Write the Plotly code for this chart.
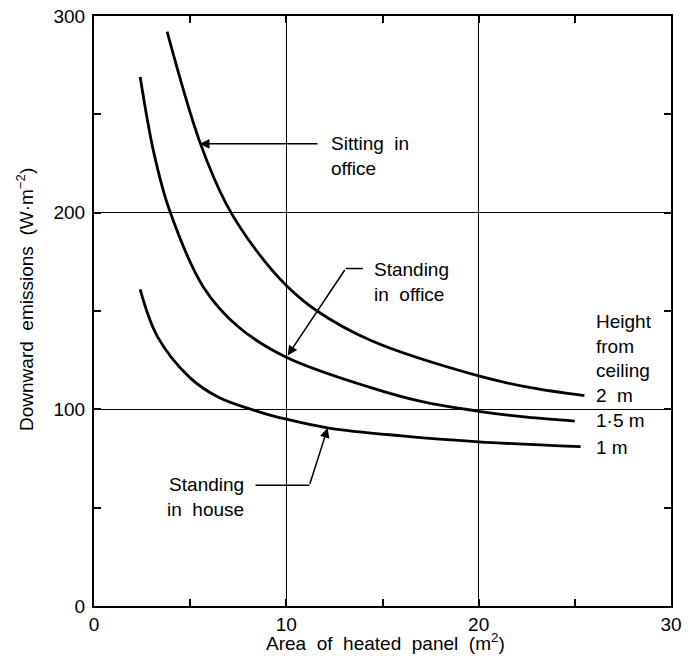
import plotly.graph_objects as go

# ---- data ----
sit_x = [3.8, 5.5, 6.9, 8.5, 10.0, 11.6, 14.4, 20.0, 22.7, 25.5]
sit_y = [292, 236, 204, 180, 163, 150, 135, 117, 111, 107]

off_x = [2.4, 3.1, 3.9, 5.7, 7.5, 10.0, 14.4, 17.0, 20.0, 22.5, 25.0]
off_y = [269, 231, 202, 162, 142, 126.5, 111, 104, 99, 96, 94]

house_x = [2.4, 3.3, 5.0, 6.5, 8.5, 10.0, 12.2, 16.0, 20.0, 25.3]
house_y = [161, 137, 116, 106, 99, 95, 90.5, 86.5, 83.5, 81]

x_ticks = [0, 10, 20, 30]
y_ticks = [0, 100, 200, 300]

FONT = "Liberation Sans, Arial, Helvetica, sans-serif"

fig = go.Figure()
for xs, ys in [(sit_x, sit_y), (off_x, off_y), (house_x, house_y)]:
    fig.add_trace(go.Scatter(x=xs, y=ys, mode="lines",
                             line=dict(color="black", width=2.8, shape="spline", smoothing=1.0),
                             showlegend=False, hoverinfo="skip"))

ann_font = dict(family=FONT, size=19, color="black")
annotations = [
    dict(x=12.2, y=229, text="Sitting  in<br>office", xanchor="left", yanchor="middle", align="left"),
    dict(x=14.45, y=165, text="Standing<br>in  office", xanchor="left", yanchor="middle", align="left"),
    dict(x=7.9, y=55.3, text="Standing<br>in  house", xanchor="right", yanchor="middle", align="right"),
    dict(x=26.0, y=126, text="Height<br>from<br>ceiling<br>2  m", xanchor="left", yanchor="middle", align="left"),
    dict(x=26.0, y=94.4, text="1·5 m", xanchor="left", yanchor="middle", align="left"),
    dict(x=26.0, y=80.7, text="1 m", xanchor="left", yanchor="middle", align="left"),
]
for a in annotations:
    fig.add_annotation(xref="x", yref="y", showarrow=False, font=ann_font, **a)

# arrows (head, tail)
arrows = [((5.5, 235), (11.7, 235)),
          ((10.07, 127.4), (13.09, 171.6)),
          ((12.15, 90.5), (11.2, 61.4))]
for (hx, hy), (tx, ty) in arrows:
    fig.add_annotation(x=hx, y=hy, ax=tx, ay=ty, xref="x", yref="y", axref="x", ayref="y",
                       text="", showarrow=True, arrowhead=2, arrowsize=1.3, arrowwidth=1.5,
                       arrowcolor="black")
# leader horizontal segments
for x0, x1, yy in [(13.09, 13.98, 171.6), (8.4, 11.2, 61.4)]:
    fig.add_shape(type="line", x0=x0, x1=x1, y0=yy, y1=yy, xref="x", yref="y",
                  line=dict(color="black", width=1.5))

title_font = dict(family=FONT, size=19, color="black")
# axis titles
fig.add_annotation(xref="paper", yref="paper", x=-0.12, y=0.52,
                   text="Downward  emissions  (W·m<sup>−2</sup>)",
                   textangle=-90, showarrow=False, font=title_font,
                   xanchor="center", yanchor="middle")
fig.add_annotation(xref="paper", yref="paper", x=0.506, y=-0.061,
                   text="Area  of  heated  panel  (m<sup>2</sup>)",
                   showarrow=False, font=title_font, xanchor="center", yanchor="middle")

axis_common = dict(showline=True, linecolor="black", linewidth=2, mirror="ticks",
                   showgrid=True, gridcolor="black", gridwidth=1.3, zeroline=False,
                   ticks="inside", ticklen=6, tickwidth=1.5, tickcolor="black",
                   ticklabeloverflow="allow", automargin=False,
                   tickfont=dict(family=FONT, size=19, color="black"),
                   minor=dict(ticks="inside", ticklen=7, tickwidth=1.5, tickcolor="black", showgrid=False))

fig.update_xaxes(range=[0, 30], tickvals=x_ticks, minor_dtick=5, **axis_common)
fig.update_yaxes(range=[0, 300], tickvals=y_ticks, minor_dtick=50, ticklabelstandoff=3,
                 **axis_common)

fig.update_layout(width=693, height=668, margin=dict(l=94, r=22, t=16, b=62),
                  plot_bgcolor="white", paper_bgcolor="white",
                  font=dict(family=FONT, color="black"))

fig.write_html("out.html", config={"displayModeBar": False},
               post_script="document.body.style.margin='0';document.body.style.overflow='hidden';")
